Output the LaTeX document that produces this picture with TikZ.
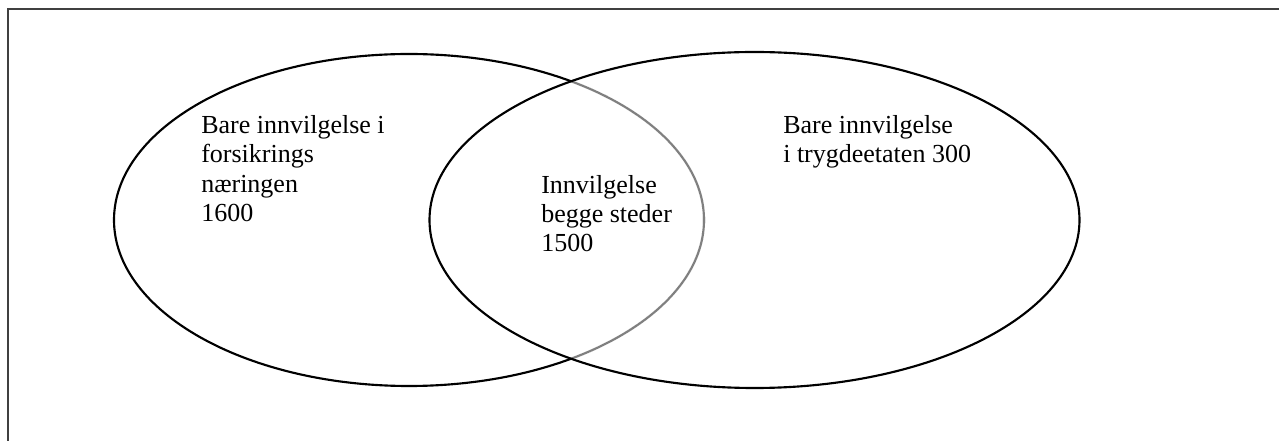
\documentclass[tikz,border=0pt]{standalone}
\usepackage{fontspec}
\setmainfont{Liberation Serif}
\begin{document}
\begin{tikzpicture}[x=0.75pt,y=-0.75pt,
  frameline/.style={draw=black!75,line width=1.5pt},
  setline/.style={line width=1.6pt},
  label/.style={anchor=base west,inner sep=0pt,align=left,font=\fontsize{19.5pt}{22pt}\selectfont}]
\useasboundingbox (0,0) rectangle (1279,441);
\fill[white] (0,0) rectangle (1279,441);
\draw[frameline] (7.5,441) -- (7.5,9.5) -- (1279,9.5);
\coordinate (L) at (409,220);
\coordinate (R) at (754.5,220);
% left set
\draw[setline,black] (L) ellipse [x radius=221.25pt, y radius=124.5pt];
\begin{scope}
  \clip (R) ellipse [x radius=243.75pt, y radius=126pt];
  \draw[setline,white,line width=2.4pt] (L) ellipse [x radius=221.25pt, y radius=124.5pt];
  \draw[setline,black!50] (L) ellipse [x radius=221.25pt, y radius=124.5pt];
\end{scope}
% right set
\draw[setline,black] (R) ellipse [x radius=243.75pt, y radius=126pt];
\node[label] (a) at (201,221.5) {Bare innvilgelse i\\forsikrings\\næringen\\1600};
\node[label] (b) at (541,252) {Innvilgelse\\begge steder\\1500};
\node[label] (c) at (783,163) {Bare innvilgelse\\i trygdeetaten 300};
\end{tikzpicture}
\end{document}
